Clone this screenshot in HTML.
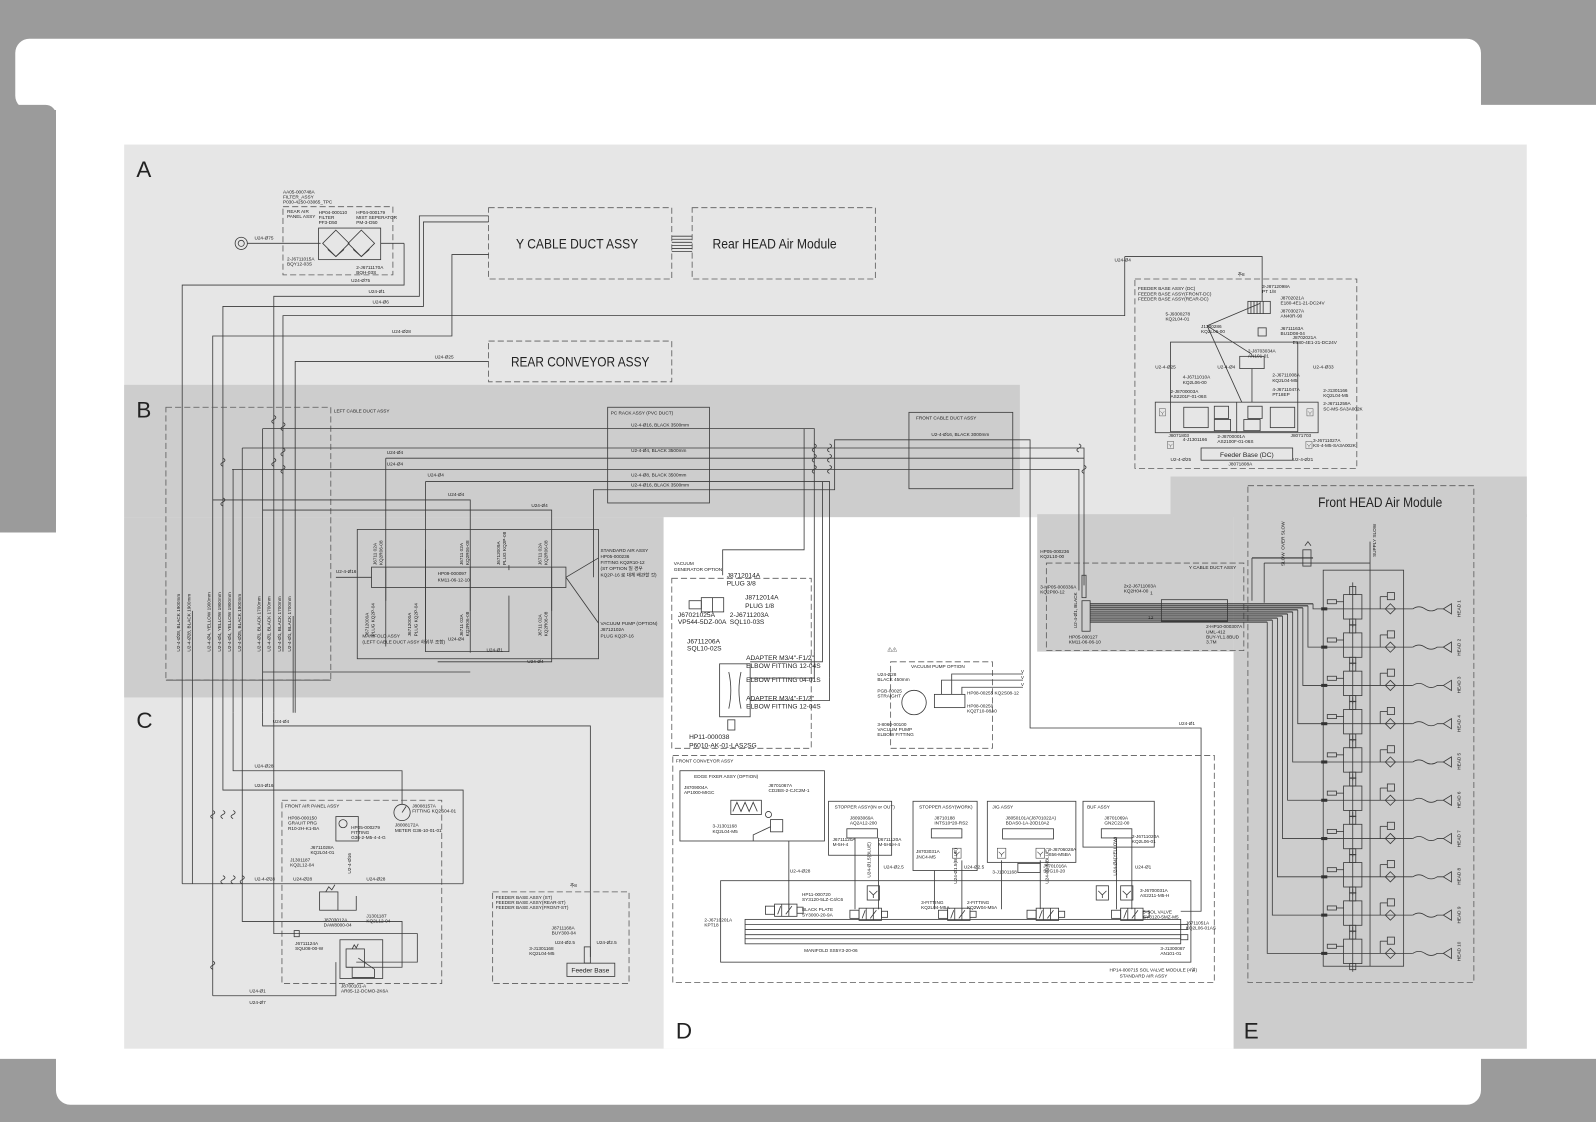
<!DOCTYPE html>
<html><head><meta charset="utf-8"><style>
html,body{margin:0;padding:0;background:#9b9b9b;}
svg{display:block}
.l{stroke:#3a3a3a;stroke-width:.8;fill:none}
.t{stroke:#333;stroke-width:1.1;fill:none}
.d{stroke:#5a5a5a;stroke-width:.8;fill:none;stroke-dasharray:6 3}
text{font-family:"Liberation Sans","Noto Sans CJK KR",sans-serif;fill:#222}
.s{font-size:4.6px}
.m{font-size:6.5px}
.big{font-size:14px}
.lab{font-size:22px}
</style></head><body>
<svg width="1596" height="1122" viewBox="0 0 1568 1102" preserveAspectRatio="none" xmlns="http://www.w3.org/2000/svg">
<defs>
<g id="row">
 <line class="l" x1="1300" y1="0" x2="1388" y2="0"/>
 <path class="l" d="M1388 0 q6 -4 12 0 q6 4 12 0 L1418 0"/>
 <polygon class="l" points="1418,0 1426,-5 1426,5"/>
 <rect class="l" x="1320" y="-14" width="18" height="24"/>
 <rect class="l" x="1326" y="-22" width="6" height="8"/>
 <rect class="l" x="1326" y="10" width="6" height="6"/>
 <line class="l" x1="1329" y1="-26" x2="1329" y2="18"/>
 <rect class="l" x="1304" y="-9" width="9" height="4"/>
 <line class="l" x1="1313" y1="-7" x2="1320" y2="-7"/>
 <polygon class="l" points="1366,-5 1371,0 1366,5 1361,0"/>
 <line class="l" x1="1356" y1="-12" x2="1356" y2="0"/>
 <line class="l" x1="1356" y1="-12" x2="1363" y2="-12"/>
 <rect class="l" x="1363" y="-16" width="7" height="7"/>
 <rect x="1298" y="-1.5" width="6" height="3" fill="#333"/>
</g>
<g id="valve">
 <rect class="l" x="-18" y="-5" width="9" height="8"/>
 <rect class="l" x="-9" y="-7" width="22" height="12"/>
 <line class="l" x1="-2" y1="-7" x2="-2" y2="5"/>
 <line class="l" x1="5" y1="-7" x2="5" y2="5"/>
 <path class="l" d="M-6 3 L-3 -5 M2 3 L8 -5"/>
 <rect class="l" x="13" y="-4" width="6" height="6"/>
</g>
<g id="chk">
 <rect class="l" x="-6" y="-7" width="12" height="14"/>
 <path class="l" d="M-4 -2 L0 2 L4 -2 M0 2 L0 5"/>
</g>
<g id="jog"><path class="l" d="M0 0 q4 2 0 4 q-4 2 0 4"/></g>
</defs>

<!-- page frame -->
<rect x="0" y="0" width="1568" height="1102" fill="#9b9b9b"/>
<rect x="15" y="38" width="1440" height="70" rx="14" fill="#fff"/>
<rect x="55" y="60" width="1400" height="1025" rx="14" fill="#fff"/>
<rect x="0" y="523" width="80" height="517" fill="#fff"/>
<rect x="1400" y="103" width="168" height="937" fill="#fff"/>
<rect x="0" y="103" width="55" height="420" rx="10" fill="#9b9b9b"/>

<!-- regions -->
<rect x="122" y="142" width="1378" height="888" fill="#e6e6e6"/>
<rect x="122" y="378" width="880" height="130" fill="#cdcdcd"/>
<rect x="122" y="508" width="530" height="177" fill="#cdcdcd"/>
<rect x="1150" y="468" width="350" height="40" fill="#cdcdcd"/>
<rect x="652" y="508" width="560" height="522" fill="#fff"/>
<rect x="1019" y="505" width="193" height="135" fill="#cdcdcd"/>
<rect x="1212" y="505" width="288" height="525" fill="#cdcdcd"/>

<text class="lab" x="134" y="174">A</text>
<text class="lab" x="134" y="410">B</text>
<text class="lab" x="134" y="715">C</text>
<text class="lab" x="664" y="1020">D</text>
<text class="lab" x="1222" y="1020">E</text>

<!-- ===== A ===== -->
<circle class="l" cx="237" cy="239" r="6"/><circle class="l" cx="237" cy="239" r="3"/>
<line class="l" x1="243" y1="239" x2="315" y2="239"/>
<text class="s" x="250" y="235">U24-Ø75</text>
<text class="s" x="278" y="190">AA05-000748A</text>
<text class="s" x="278" y="195">FILTER_ASSY</text>
<text class="s" x="278" y="200">P030-4250-03065_TPC</text>
<rect class="d" x="278" y="203" width="108" height="67"/>
<text class="s" x="282" y="209">REAR AIR</text><text class="s" x="282" y="214">PANEL ASSY</text>
<text class="s" x="313" y="210">HP04-000110</text><text class="s" x="313" y="215">FILTER</text><text class="s" x="313" y="220">PF3-D50</text>
<text class="s" x="350" y="210">HP04-000179</text><text class="s" x="350" y="215">MIST SEPERATOR</text><text class="s" x="350" y="220">PM-3-D50</text>
<rect class="l" x="313" y="224" width="61" height="31"/>
<polygon class="l" points="330,226 343,239 330,252 317,239"/>
<polygon class="l" points="355,226 368,239 355,252 342,239"/>
<path class="l" d="M322 245 L330 252 L338 245 M347 245 L355 252 L363 245"/>
<line class="l" x1="374" y1="239" x2="397" y2="239"/>
<text class="s" x="282" y="256">2-J6711015A</text><text class="s" x="282" y="261">BQY12-03S</text>
<text class="s" x="350" y="264">2-J6711170A</text><text class="s" x="350" y="269">BQH-03S</text>
<path class="l" d="M397 239 L397 280 L179 280 L179 868"/>
<text class="s" x="345" y="277">U24-Ø75</text>

<rect class="d" x="480" y="204" width="180" height="70"/>
<text class="big" x="507" y="244" textLength="120" lengthAdjust="spacingAndGlyphs">Y CABLE DUCT ASSY</text>
<rect class="d" x="680" y="204" width="180" height="70"/>
<text class="big" x="700" y="244" textLength="122" lengthAdjust="spacingAndGlyphs">Rear HEAD Air Module</text>
<path class="l" d="M660 232H680M660 235H680M660 238H680M660 241H680M660 244H680M660 247H680"/>

<path class="l" d="M480 212 L412 212 L412 291 L269 291 L269 700"/>
<text class="s" x="362" y="288">U24-Ø1</text>
<path class="l" d="M480 218 L416 218 L416 301 L219 301 L219 600"/>
<text class="s" x="366" y="298">U24-Ø6</text>
<path class="l" d="M1105 252 L1105 310 L278 310 L278 640"/>
<text class="s" x="1095" y="257">U24-Ø4</text>
<path class="l" d="M480 250 L444 250 L444 330 L209 330 L209 978"/>
<text class="s" x="385" y="327">U24-Ø28</text>

<rect class="d" x="480" y="335" width="180" height="40"/>
<text class="big" x="502" y="360" textLength="136" lengthAdjust="spacingAndGlyphs">REAR CONVEYOR ASSY</text>
<path class="l" d="M480 355 L290 355 L290 700"/>
<text class="s" x="427" y="352">U24-Ø25</text>

<!-- Feeder base DC -->
<rect class="d" x="1115" y="274" width="218" height="186"/>
<text class="s" x="1118" y="285">FEEDER BASE ASSY (DC)</text>
<text class="s" x="1118" y="290">FEEDER BASE ASSY(FRONT-DC)</text>
<text class="s" x="1118" y="295">FEEDER BASE ASSY(REAR-DC)</text>
<text class="s" x="1216" y="271">추8</text>
<path class="l" d="M1105 252 L1240 252 L1240 296"/>
<rect class="l" x="1226" y="296" width="22" height="12"/>
<path class="l" d="M1229 296V308M1232 296V308M1235 296V308M1238 296V308M1241 296V308"/>
<text class="s" x="1240" y="283">3-J8712098A</text><text class="s" x="1240" y="288">PT 1/8</text>
<text class="s" x="1258" y="294">J8702021A</text><text class="s" x="1258" y="299">E180-4E1-21-DC24V</text>
<text class="s" x="1145" y="310">5-J9300278</text><text class="s" x="1145" y="315">KQ2L04-01</text>
<text class="s" x="1258" y="307">J8703027A</text><text class="s" x="1258" y="312">AN40R-90</text>
<text class="s" x="1180" y="322">J1300286</text><text class="s" x="1180" y="327">KQ2L06-00</text>
<rect class="l" x="1236" y="322" width="8" height="8"/>
<text class="s" x="1258" y="324">J6711163A</text><text class="s" x="1258" y="329">BU1D08-04</text>
<text class="s" x="1270" y="333">J8702021A</text><text class="s" x="1270" y="338">E180-4E1-21-DC24V</text>
<rect class="l" x="1150" y="336" width="125" height="88"/>
<rect class="l" x="1218" y="350" width="24" height="12"/>
<text class="s" x="1226" y="346">2-J8703034A</text><text class="s" x="1226" y="351">AN101-01</text>
<text class="s" x="1135" y="362">U2-4-Ø25</text><text class="s" x="1290" y="362">U2-4-Ø33</text>
<text class="s" x="1196" y="362">U2-4-Ø4</text>
<path class="l" d="M1230 362 L1230 395 M1186 320 L1230 348 M1186 320 L1220 395 M1186 320 L1238 298"/>
<text class="s" x="1162" y="372">4-J6711010A</text><text class="s" x="1162" y="377">KQ2L06-00</text>
<text class="s" x="1150" y="386">2-J8700003A</text><text class="s" x="1150" y="391">AS2201F-01-06S</text>
<text class="s" x="1250" y="370">2-J6711008A</text><text class="s" x="1250" y="375">KQ2L04-M5</text>
<text class="s" x="1250" y="384">4-J6711047A</text><text class="s" x="1250" y="389">PT18EP</text>
<rect class="l" x="1135" y="395" width="160" height="30"/>
<line class="l" x1="1215" y1="395" x2="1215" y2="425"/>
<rect class="l" x="1163" y="400" width="24" height="20"/><rect class="l" x="1248" y="400" width="24" height="20"/>
<rect class="l" x="1193" y="399" width="14" height="12"/><rect class="l" x="1226" y="399" width="14" height="12"/>
<rect class="l" x="1193" y="412" width="16" height="11"/><rect class="l" x="1222" y="412" width="16" height="11"/>
<use href="#chk" transform="translate(1142,405) scale(.5)"/><use href="#chk" transform="translate(1287,405) scale(.5)"/>
<text class="s" x="1300" y="385">2-J1301166</text><text class="s" x="1300" y="390">KQ2L04-M5</text>
<text class="s" x="1300" y="398">2-J6711259A</text><text class="s" x="1300" y="403">SC-MS-SA3A002K</text>
<text class="s" x="1148" y="429">J8071803</text><text class="s" x="1268" y="429">J8071703</text>
<text class="s" x="1196" y="430">2-J8700001A</text><text class="s" x="1196" y="435">AS2100F-01-06S</text>
<rect class="l" x="1180" y="440" width="90" height="12"/>
<text class="m" x="1225" y="449" text-anchor="middle">Feeder Base (DC)</text>
<use href="#chk" transform="translate(1150,437) scale(.5)"/><use href="#chk" transform="translate(1286,437) scale(.5)"/>
<text class="s" x="1150" y="453">U2-4-Ø25</text><text class="s" x="1270" y="453">U2-4-Ø21</text>
<text class="s" x="1207" y="457">J8071808A</text>
<text class="s" x="1162" y="433">4-J1301166</text>
<text class="s" x="1290" y="434">3-J6711027A</text><text class="s" x="1290" y="439">KS-4-M5-SA3A002K</text>

<!-- ===== B ===== -->
<rect class="d" x="163" y="400" width="162" height="268"/>
<text class="s" x="328" y="405">LEFT CABLE DUCT ASSY</text>
<rect class="l" x="597" y="400" width="100" height="94"/>
<text class="s" x="600" y="407">PC RACK ASSY (PVC DUCT)</text>
<text class="s" x="620" y="419">U2-4-Ø16, BLACK 3500mm</text>
<text class="s" x="620" y="444">U2-4-Ø4, BLACK 3500mm</text>
<text class="s" x="620" y="468">U2-4-Ø8, BLACK 3500mm</text>
<text class="s" x="620" y="478">U2-4-Ø16, BLACK 3500mm</text>
<rect class="l" x="893" y="405" width="102" height="75"/>
<text class="s" x="900" y="412">FRONT CABLE DUCT ASSY</text>
<text class="s" x="915" y="428">U2-4-Ø16, BLACK 3000mm</text>

<path class="l" d="M258 421 L800 421 L800 640"/>
<path class="l" d="M238 440 L1065 440 L1065 575"/>
<path class="l" d="M379 450 L1065 450"/>
<path class="l" d="M228 461 L1060 461 L1060 580"/>
<path class="l" d="M418 473 L815 473 L815 665"/>
<path class="l" d="M583 567 L583 481 L820 481 L820 432 L1012 432 L1012 715 L1180 715 L1180 895 L1160 895"/>
<path class="l" d="M209 491 L462 491 L462 641"/>
<path class="l" d="M258 501 L542 501 L542 650 L430 650"/>
<text class="s" x="380" y="446">U24-Ø4</text><text class="s" x="380" y="457">U24-Ø4</text>
<text class="s" x="420" y="468">U24-Ø4</text><text class="s" x="440" y="487">U24-Ø4</text>
<text class="s" x="522" y="498">U24-Ø4</text>
<use href="#jog" x="219" y="450"/><use href="#jog" x="269" y="408"/><use href="#jog" x="278" y="415"/><use href="#jog" x="269" y="450"/>
<use href="#jog" x="278" y="440"/><use href="#jog" x="278" y="457"/><use href="#jog" x="219" y="489"/>
<use href="#jog" x="800" y="436"/><use href="#jog" x="800" y="446"/><use href="#jog" x="800" y="457"/><use href="#jog" x="815" y="436"/><use href="#jog" x="815" y="446"/><use href="#jog" x="815" y="457"/>
<use href="#jog" x="1065" y="457"/><use href="#jog" x="1060" y="436"/>

<path class="l" d="M189 600 L189 868"/>
<path class="l" d="M229 461 L229 700"/>
<path class="l" d="M238 440 L238 905 L395 905 L395 950 L340 950"/>
<path class="l" d="M258 421 L258 700"/>
<path class="l" d="M379 450 L379 635"/>
<path class="l" d="M418 473 L418 630"/>
<path class="l" d="M288 605 L288 700"/>
<g transform="rotate(-90)">
<text class="s" x="-640" y="177">U2-4-Ø28, BLACK 1900mm</text>
<text class="s" x="-640" y="187">U2-4-Ø28, BLACK 1900mm</text>
<text class="s" x="-640" y="207">U2-4-Ø4, YELLOW 1900mm</text>
<text class="s" x="-640" y="217">U2-4-Ø4, YELLOW 1900mm</text>
<text class="s" x="-640" y="227">U2-4-Ø4, YELLOW 1900mm</text>
<text class="s" x="-640" y="237">U2-4-Ø25, BLACK 1900mm</text>
<text class="s" x="-640" y="256">U2-4-Ø1, BLACK 1700mm</text>
<text class="s" x="-640" y="266">U2-4-Ø1, BLACK 1700mm</text>
<text class="s" x="-640" y="276">U2-4-Ø1, BLACK 1700mm</text>
<text class="s" x="-640" y="286">U2-4-Ø1, BLACK 1700mm</text>
</g>
<rect class="l" x="351" y="520" width="237" height="127"/>
<rect class="l" x="365" y="557" width="191" height="20"/>
<line class="l" x1="330" y1="567" x2="365" y2="567"/>
<text class="s" x="330" y="563">U2-4-Ø16</text>
<text class="s" x="430" y="565">HP09-000097</text><text class="s" x="430" y="571">KM11-06-12-10</text>
<path class="l" d="M379 557V590M418 540V620M462 557V600M542 557V600M500 555V560"/>
<g transform="rotate(-90)">
<text class="s" x="-555" y="370">J6711 02A</text><text class="s" x="-555" y="376">KQ2R06-08</text>
<text class="s" x="-555" y="455">J6711 02A</text><text class="s" x="-555" y="461">KQ2R06-08</text>
<text class="s" x="-555" y="491">J6712009A</text><text class="s" x="-555" y="497">PLUG KQ2P-08</text>
<text class="s" x="-555" y="532">J6711 02A</text><text class="s" x="-555" y="538">KQ2R06-08</text>
<text class="s" x="-625" y="362">J6712000A</text><text class="s" x="-625" y="368">PLUG KQ2P-04</text>
<text class="s" x="-625" y="404">J6712000A</text><text class="s" x="-625" y="410">PLUG KQ2P-04</text>
<text class="s" x="-625" y="455">J6711 02A</text><text class="s" x="-625" y="461">KQ2R06-08</text>
<text class="s" x="-625" y="532">J6711 02A</text><text class="s" x="-625" y="538">KQ2R06-08</text>
</g>
<text class="s" x="356" y="626">MANIFOLD ASSY</text><text class="s" x="356" y="632">(LEFT CABLE DUCT ASSY  하위부 조합)</text>
<text class="s" x="590" y="542">STANDARD AIR ASSY</text><text class="s" x="590" y="548">HP05-000236</text>
<text class="s" x="590" y="554">FITTING KQ2R10-12</text><text class="s" x="590" y="560">(ST OPTION 일 경우</text><text class="s" x="590" y="566">KQ2P-16  로 대체 배관할 것)</text>
<text class="s" x="590" y="614">VACUUM PUMP (OPTION)</text><text class="s" x="590" y="620">J8712102A</text><text class="s" x="590" y="626">PLUG KQ2P-16</text>
<path class="l" d="M556 567 L588 548 M556 567 L588 612"/>
<path class="l" d="M258 660 L462 660"/>
<text class="s" x="440" y="629">U24-Ø4</text><text class="s" x="478" y="640">U24-Ø1</text><text class="s" x="518" y="651">U24-Ø4</text>
<path class="l" d="M418 620 L418 640 L500 640 L500 585"/>
<path class="l" d="M163 668 L325 668"/>

<!-- ===== C ===== -->
<path class="l" d="M258 700 L258 713 L580 713 L580 940"/>
<text class="s" x="268" y="710">U24-Ø4</text>
<path class="l" d="M229 700 L229 757 L395 757 L395 790"/>
<text class="s" x="250" y="754">U24-Ø28</text>
<path class="l" d="M219 600 L219 776 L455 776 L455 868"/>
<text class="s" x="250" y="773">U24-Ø16</text>
<circle class="l" cx="395" cy="798" r="8"/><line class="l" x1="395" y1="798" x2="399" y2="792"/>
<text class="s" x="405" y="793">J8008157A</text><text class="s" x="405" y="798">FITTING KQ2S04-01</text>
<text class="s" x="388" y="812">J8008172A</text><text class="s" x="388" y="817">METER G36-10-01-01</text>
<rect class="d" x="277" y="786" width="157" height="180"/>
<text class="s" x="280" y="793">FRONT AIR PANEL ASSY</text>
<text class="s" x="283" y="805">HP08-000150</text><text class="s" x="283" y="810">GRAUIT PRG</text><text class="s" x="283" y="815">R10-2H-K1-BA</text>
<rect class="l" x="330" y="802" width="22" height="24"/><circle class="l" cx="337" cy="809" r="4"/>
<text class="s" x="345" y="814">HP05-000279</text><text class="s" x="345" y="819">FITTING</text><text class="s" x="345" y="824">G36-2-M5-4-4-G</text>
<text class="s" x="305" y="834">J6711028A</text><text class="s" x="305" y="839">KQ2L04-01</text>
<text class="s" x="285" y="846">J1301187</text><text class="s" x="285" y="851">KQ2L12-04</text>
<rect class="l" x="314" y="876" width="18" height="18"/><path class="l" d="M320 876 l3 -5 l3 3 l3 -5"/>
<path class="l" d="M332 894 L350 894 L350 880"/>
<text class="s" x="343" y="856" transform="rotate(-90 345 856)">U2-4-Ø16</text>
<path class="l" d="M179 868 L455 868"/>
<text class="s" x="250" y="865">U2-4-Ø28</text><text class="s" x="288" y="865">U24-Ø28</text><text class="s" x="360" y="865">U24-Ø28</text>
<text class="s" x="318" y="905">J8703012A</text><text class="s" x="318" y="910">DAW8000-04</text>
<text class="s" x="360" y="901">J1301187</text><text class="s" x="360" y="906">KQ2L12-04</text>
<path class="l" d="M269 700 L269 917 L410 917 L410 945 L350 945"/>
<rect class="l" x="289" y="914" width="5" height="6"/>
<text class="s" x="290" y="928">J6711124A</text><text class="s" x="290" y="933">SQU08-00-W</text>
<rect class="l" x="334" y="923" width="42" height="38"/><rect class="l" x="340" y="932" width="18" height="18"/>
<path class="l" d="M346 932 l2 -4 l2 3 l2 -4 M352 941 L368 952 L368 960 L346 960 L346 950"/>
<text class="s" x="335" y="970">J8700101-A</text><text class="s" x="335" y="975">AR05-12-DCMO-2K6A</text>
<path class="l" d="M209 978 L330 978 L330 945"/>
<text class="s" x="245" y="975">U24-Ø1</text><text class="s" x="245" y="986">U24-Ø7</text>
<use href="#jog" x="209" y="796"/><use href="#jog" x="219" y="860"/><use href="#jog" x="229" y="860"/><use href="#jog" x="238" y="860"/><use href="#jog" x="219" y="796"/><use href="#jog" x="229" y="796"/><use href="#jog" x="209" y="944"/>
<rect class="d" x="484" y="876" width="134" height="90"/>
<text class="s" x="560" y="871">추8</text>
<text class="s" x="487" y="883">FEEDER BASE ASSY (ST)</text><text class="s" x="487" y="888">FEEDER BASE ASSY(REAR-ST)</text><text class="s" x="487" y="893">FEEDER BASE ASSY(FRONT-ST)</text>
<text class="s" x="542" y="913">J8711168A</text><text class="s" x="542" y="918">BUY300-04</text>
<rect class="l" x="574" y="930" width="6" height="16"/>
<text class="s" x="545" y="927">U24-Ø2.5</text><text class="s" x="586" y="927">U24-Ø2.5</text>
<text class="s" x="520" y="933">3-J1301168</text><text class="s" x="520" y="938">KQ2L04-M5</text>
<rect class="l" x="557" y="946" width="47" height="13"/>
<text class="m" x="580" y="955" text-anchor="middle">Feeder Base</text>

<!-- ===== D ===== -->
<path class="l" d="M800 640 L800 666 L737 666"/>
<path class="l" d="M710 565 L710 540 L790 540 L790 421"/>
<path class="l" d="M815 665 L815 688 L737 688"/>
<path class="l" d="M808 473 L808 650 L737 650"/>
<text class="s" x="662" y="555">VACUUM</text><text class="s" x="662" y="561">GENERATOR OPTION</text>
<text class="m" x="714" y="567">J8712014A</text><text class="m" x="714" y="575">PLUG 3/8</text>
<rect class="d" x="660" y="568" width="137" height="167"/>
<rect class="l" x="677" y="590" width="12" height="8"/><rect class="l" x="689" y="587" width="22" height="14"/><line class="l" x1="700" y1="587" x2="700" y2="601"/>
<text class="m" x="732" y="589">J8712014A</text><text class="m" x="732" y="597">PLUG 1/8</text>
<text class="m" x="666" y="606">J67021025A</text><text class="m" x="666" y="613">VP544-5DZ-00A</text>
<text class="m" x="717" y="606">2-J6711203A</text><text class="m" x="717" y="613">SQL10-03S</text>
<text class="m" x="675" y="632">J6711206A</text><text class="m" x="675" y="639">SQL10-02S</text>
<rect class="l" x="707" y="652" width="30" height="52"/>
<path class="l" d="M716 660 q4 18 0 36 M728 660 q-4 18 0 36"/>
<rect class="l" x="715" y="707" width="7" height="10"/>
<text class="m" x="733" y="648">ADAPTER M3/4"-F1/2"</text><text class="m" x="733" y="656">ELBOW FITTING 12-04S</text>
<text class="m" x="733" y="670">ELBOW FITTING 04-01S</text>
<text class="m" x="733" y="688">ADAPTER M3/4"-F1/2"</text><text class="m" x="733" y="696">ELBOW FITTING 12-04S</text>
<text class="m" x="677" y="726">HP11-000038</text><text class="m" x="677" y="734">P6010-AK-01-LAS2SG</text>
<text class="s" x="872" y="640">⚠⚠</text>
<rect class="d" x="875" y="650" width="100" height="85"/>
<text class="s" x="895" y="656">VACUUM PUMP OPTION</text>
<text class="s" x="862" y="664">U24-Ø28</text><text class="s" x="862" y="669">BLACK 450mm</text>
<text class="s" x="862" y="680">PGB-00025</text><text class="s" x="862" y="685">STRAIGHT</text>
<circle class="l" cx="898" cy="690" r="12"/>
<rect class="l" x="918" y="682" width="30" height="13"/>
<path class="l" d="M925 682 L925 668 L1005 668 M935 682 L935 662 L1005 662 M945 682 L945 675 L1005 675"/>
<text class="s" x="1003" y="661">V</text><text class="s" x="1003" y="667">V</text><text class="s" x="1003" y="674">V</text>
<text class="s" x="950" y="682">HP08-00255 KQ2S08-12</text>
<text class="s" x="950" y="695">HP08-00250</text><text class="s" x="950" y="700">KQ2T10-08A0</text>
<text class="s" x="862" y="713">3-8060-00100</text><text class="s" x="862" y="718">VACUUM PUMP</text><text class="s" x="862" y="723">ELBOW FITTING</text>

<rect class="d" x="661" y="742" width="532" height="223"/>
<text class="s" x="664" y="749">FRONT CONVEYOR ASSY</text>
<rect class="l" x="668" y="757" width="142" height="69"/>
<text class="s" x="682" y="764">EDGE FIXER ASSY (OPTION)</text>
<text class="s" x="672" y="775">J8709004A</text><text class="s" x="672" y="780">AP1000-MIGC</text>
<text class="s" x="755" y="773">J8701067A</text><text class="s" x="755" y="778">CD2BS-2-CJC2M-1</text>
<rect class="l" x="718" y="786" width="30" height="14"/><path class="l" d="M720 797 l4 -9 l4 9 l4 -9 l4 9 l4 -9 l4 9"/>
<circle class="l" cx="755" cy="800" r="3"/>
<rect class="l" x="757" y="805" width="12" height="12"/><path class="l" d="M757 812 L740 820 L740 826"/>
<text class="s" x="700" y="813">3-J1301168</text><text class="s" x="700" y="818">KQ2L04-M5</text>
<rect class="l" x="814" y="787" width="62" height="53"/>
<text class="s" x="820" y="794">STOPPER ASSY(IN or OUT)</text>
<text class="s" x="835" y="805">J8093069A</text><text class="s" x="835" y="810">AQ2A12-200</text>
<rect class="l" x="832" y="814" width="30" height="9"/>
<text class="s" x="818" y="826">J6711120A</text><text class="s" x="818" y="831">M-5H-4</text>
<text class="s" x="863" y="826">J6711120A</text><text class="s" x="863" y="831">M-5HLH-4</text>
<rect class="l" x="897" y="787" width="63" height="68"/>
<text class="s" x="903" y="794">STOPPER ASSY(WORK)</text>
<text class="s" x="918" y="805">J8710188</text><text class="s" x="918" y="810">INTS10*20-RS2</text>
<rect class="l" x="915" y="814" width="30" height="9"/>
<text class="s" x="900" y="838">J8703031A</text><text class="s" x="900" y="843">JNC4-M5</text>
<use href="#chk" transform="translate(940,838) scale(.7)"/>
<rect class="l" x="970" y="787" width="87" height="60"/>
<text class="s" x="975" y="794">JIG ASSY</text>
<text class="s" x="988" y="805">J8050101A(J8701022A)</text><text class="s" x="988" y="810">BDAS0-1A-20D10A2</text>
<rect class="l" x="985" y="814" width="50" height="10"/>
<use href="#chk" transform="translate(984,838) scale(.7)"/><use href="#chk" transform="translate(1022,838) scale(.7)"/>
<rect class="l" x="1000" y="848" width="22" height="9"/>
<text class="s" x="1030" y="836">3-J8706028A</text><text class="s" x="1030" y="841">S56-M5BA</text>
<text class="s" x="1025" y="852">J8701016A</text><text class="s" x="1025" y="857">SPG10-20</text>
<text class="s" x="975" y="858">3-J1301168</text>
<rect class="l" x="1064" y="787" width="70" height="45"/>
<text class="s" x="1068" y="794">BUF ASSY</text>
<text class="s" x="1085" y="805">J8701069A</text><text class="s" x="1085" y="810">GN2C22-00</text>
<rect class="l" x="1082" y="814" width="30" height="9"/>
<text class="s" x="1112" y="823">2-J6711020A</text><text class="s" x="1112" y="828">KQ2L06-01</text>
<rect class="l" x="708" y="865" width="462" height="80"/>
<rect class="l" x="732" y="903" width="428" height="24"/>
<path class="l" d="M732 908H1160M732 913H1160M732 918H1160M732 922H1160"/>
<use href="#valve" x="770" y="895"/><use href="#valve" x="853" y="899"/><use href="#valve" x="940" y="899"/><use href="#valve" x="1027" y="899"/><use href="#valve" x="1110" y="899"/>
<use href="#chk" x="858" y="877"/><use href="#chk" x="1083" y="877"/><use href="#chk" x="1107" y="877"/>
<path class="l" d="M775 826 L775 893 M840 823 L840 893 M863 823 L863 893 M918 855 L918 893 M945 845 L945 893 M984 845 L984 893 M1022 845 L1022 893 M1097 823 L1097 893 M1112 823 L1112 893"/>
<text class="s" x="776" y="857">U2-4-Ø28</text><text class="s" x="868" y="853">U24-Ø2.5</text><text class="s" x="947" y="853">U24-Ø2.5</text><text class="s" x="1115" y="853">U24-Ø1</text>
<g transform="rotate(-90)">
<text class="s" x="-862" y="855">U24-Ø1.5(BLUE)</text><text class="s" x="-868" y="940">U24-Ø1.5(BLUE)</text><text class="s" x="-868" y="1030">U24-Ø1.5(BLUE)</text><text class="s" x="-860" y="1097">U24-Ø4(YELLOW)</text>
</g>
<text class="s" x="788" y="880">HP11-000720</text><text class="s" x="788" y="885">SY3120-5LZ-C4/C6</text>
<text class="s" x="788" y="895">BLACK PLATE</text><text class="s" x="788" y="900">SY3000-20-9A</text>
<text class="s" x="905" y="888">3-FITTING</text><text class="s" x="905" y="893">KQ2L04-M5A</text>
<text class="s" x="950" y="888">2-FITTING</text><text class="s" x="950" y="893">KQ2W04-M5A</text>
<text class="s" x="1120" y="876">3-J6700031A</text><text class="s" x="1120" y="881">AS2211-M5-H</text>
<text class="s" x="1123" y="897">5-SOL VALVE</text><text class="s" x="1123" y="902">SY3120-5MZ-M5</text>
<text class="s" x="692" y="905">2-J6710201A</text><text class="s" x="692" y="910">KPT18</text>
<text class="s" x="1165" y="908">J6711051A</text><text class="s" x="1165" y="913">KQ2L06-01AS</text>
<rect class="l" x="1160" y="908" width="7" height="5"/><rect class="l" x="1160" y="918" width="7" height="5"/>
<text class="s" x="1140" y="933">3-J1300087</text><text class="s" x="1140" y="938">AN101-01</text>
<text class="s" x="790" y="935">MANIFOLD SS5Y3-20-06</text>
<text class="s" x="1090" y="954">HP14-000715 SOL VALVE MODULE (4열)</text><text class="s" x="1100" y="960">STANDARD AIR ASSY</text>
<text class="s" x="1158" y="712">U24-Ø1</text>

<!-- Y cable duct front -->
<rect class="d" x="1028" y="553" width="194" height="86"/>
<text class="s" x="1168" y="559">Y CABLE DUCT ASSY</text>
<text class="s" x="1022" y="543">HP05-000236</text><text class="s" x="1022" y="548">KQ2L10-00</text>
<rect class="l" x="1063" y="565" width="4" height="22"/>
<text class="s" x="1022" y="578">3-HP05-000336A</text><text class="s" x="1022" y="583">KQ2P00-12</text>
<rect class="l" x="1063" y="590" width="8" height="30"/>
<text class="s" x="1056" y="615" transform="rotate(-90 1058 615)">U2-4-Ø1, BLACK</text>
<text class="s" x="1050" y="627">HP05-000127</text><text class="s" x="1050" y="632">KM11-06-06-10</text>
<text class="s" x="1104" y="577">2x2-J6711003A</text><text class="s" x="1104" y="582">KQ2H04-00</text>
<rect class="l" x="1141" y="589" width="65" height="21"/>
<text class="s" x="1185" y="617">2-HP10-000307A</text><text class="s" x="1185" y="622">UML-412</text><text class="s" x="1185" y="627">BUY-YL1.8BUD</text><text class="s" x="1185" y="632">3.7M</text>
<text class="s" x="1128" y="608">12</text><text class="s" x="1130" y="584">1</text>

<!-- ===== E ===== -->
<rect class="d" x="1226" y="477" width="222" height="488"/>
<text class="big" x="1295" y="498" textLength="122" lengthAdjust="spacingAndGlyphs">Front HEAD Air Module</text>
<rect class="l" x="1300" y="560" width="79" height="389"/>
<line class="l" x1="1346" y1="532" x2="1346" y2="949"/>
<text class="s" x="1350" y="545" transform="rotate(-90 1352 545)">SUPPLY SLOW</text>
<path class="t" d="M1230 548 L1290 548"/>
<path class="l" d="M1242 553 L1346 553"/>
<rect class="l" x="1280" y="540" width="8" height="16"/><path class="l" d="M1282 536 l3 -4 l3 4"/>
<text class="s" x="1262" y="540" transform="rotate(-90 1262 540)">OVER SLOW</text>
<text class="s" x="1262" y="556" transform="rotate(-90 1262 556)">SLOW</text>
<path class="l" d="M1230 548 L1230 590"/>
<path class="l" d="M1242 553 L1242 592"/>
<path class="t" d="M1071 593H1290M1071 595H1285M1071 597H1280M1071 599H1275M1071 601H1270M1071 603H1265M1071 605H1260M1071 607H1255M1071 609H1250M1071 611H1245"/>
<path class="l" d="M1290 593V598H1300M1285 595V635.6H1300M1280 597V673.2H1300M1275 599V710.8H1300M1270 601V748.4H1300M1265 603V786H1300M1260 605V823.6H1300M1255 607V861.2H1300M1250 609V898.8H1300M1245 611V936.4H1300"/>
<use href="#row" y="598"/><use href="#row" y="635.6"/><use href="#row" y="673.2"/><use href="#row" y="710.8"/><use href="#row" y="748.4"/>
<use href="#row" y="786"/><use href="#row" y="823.6"/><use href="#row" y="861.2"/><use href="#row" y="898.8"/><use href="#row" y="936.4"/>
<text class="s" x="1435" y="606" transform="rotate(-90 1435 606)">HEAD 1</text>
<text class="s" x="1435" y="644" transform="rotate(-90 1435 644)">HEAD 2</text>
<text class="s" x="1435" y="681" transform="rotate(-90 1435 681)">HEAD 3</text>
<text class="s" x="1435" y="719" transform="rotate(-90 1435 719)">HEAD 4</text>
<text class="s" x="1435" y="756" transform="rotate(-90 1435 756)">HEAD 5</text>
<text class="s" x="1435" y="794" transform="rotate(-90 1435 794)">HEAD 6</text>
<text class="s" x="1435" y="832" transform="rotate(-90 1435 832)">HEAD 7</text>
<text class="s" x="1435" y="869" transform="rotate(-90 1435 869)">HEAD 8</text>
<text class="s" x="1435" y="907" transform="rotate(-90 1435 907)">HEAD 9</text>
<text class="s" x="1435" y="944" transform="rotate(-90 1435 944)">HEAD 10</text>
</svg>
</body></html>
